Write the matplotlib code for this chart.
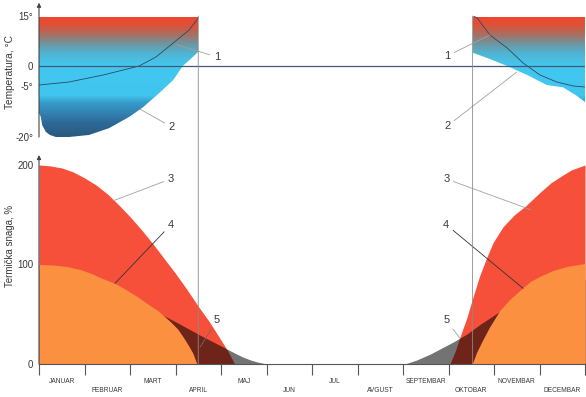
import numpy as np
import matplotlib
matplotlib.use("Agg")
import matplotlib.pyplot as plt
from matplotlib.colors import LinearSegmentedColormap, Normalize
from matplotlib.patches import ConnectionPatch

plt.rcParams['font.family'] = ['Liberation Sans', 'DejaVu Sans']

# ---- data ----
months = ["JANUAR", "FEBRUAR", "MART", "APRIL", "MAJ", "JUN",
          "JUL", "AVGUST", "SEPTEMBAR", "OKTOBAR", "NOVEMBAR", "DECEMBAR"]

season_end = 3.5     # vertical line, spring
season_start = 9.53  # vertical line, autumn

# temperature panel, left block (jan - apr): lower edge (2) and curve 1
t2_left_m = [0, 0.04, 0.07, 0.15, 0.24, 0.37, 0.66, 1.1, 1.54, 1.98, 2.29, 2.64, 2.95, 3.16, 3.38, 3.5]
t2_left_v = [-13.0, -14.1, -16.5, -18.5, -19.4, -20, -20, -19.4, -17.4, -14.1, -11.2, -7.1, -3.5, 0, 2.7, 4.3]
t1_left_m = [0, 0.66, 1.41, 1.85, 2.2, 2.57, 2.95, 3.3, 3.5]
t1_left_v = [-4.75, -4, -2.25, -1, 0, 2.7, 6.9, 10.8, 14.4]

# temperature panel, right block (oct - dec)
t2_right_m = [9.53, 9.91, 10.29, 10.73, 11.16, 11.52, 11.82, 12]
t2_right_v = [4.0, 2.1, 0, -2.25, -4.75, -5.4, -7.9, -9.7]
t1_right_m = [9.55, 9.63, 9.91, 10.29, 10.64, 11.01, 11.38, 11.74, 12]
t1_right_v = [15, 14.4, 9.3, 5.4, 0.9, -2.25, -4, -5, -5.3]

# the temperature axis of the original is not evenly spaced
temp_ticks = [-20, -5, 0, 15]
temp_tick_pos = [0, 51, 71, 121]

# thermal power panel
red_left_m = [0, 0.25, 0.5, 0.75, 1.0, 1.25, 1.5, 1.75, 2.0, 2.25, 2.5, 2.75,
              3.0, 3.25, 3.5, 3.75, 4.0, 4.15, 4.3]
red_left_v = [200, 199, 197, 193, 187, 180, 171, 160, 148, 135, 121, 106,
              91, 75, 58, 42, 24, 13, 0]
orange_left_m = [0, 0.3, 0.6, 0.9, 1.15, 1.34, 1.5, 1.67, 1.9, 2.15, 2.4, 2.6,
                 2.73, 2.9, 3.05, 3.17, 3.28, 3.38, 3.47]
orange_left_v = [100, 99.5, 98, 95, 91, 87, 84, 81, 75, 68, 60, 54,
                 49, 42, 35, 27, 19, 11, 0]
gray_left_m = [0, 1.0, 2.0, 2.73, 3.1, 3.54, 4.09, 4.3, 4.48, 4.65, 4.8, 5.0]
gray_left_v = [95, 82, 64, 49, 40, 29, 16, 11, 7, 4, 2, 0]

red_right_m = [9.03, 9.15, 9.25, 9.4, 9.53, 9.68, 9.84, 9.98, 10.2, 10.45, 10.7,
               11.0, 11.25, 11.45, 11.7, 12]
red_right_v = [0, 13, 27, 46, 66, 88, 107, 122, 138, 150, 159,
               172, 182, 188, 195, 200]
orange_right_m = [9.52, 9.62, 9.75, 9.9, 10.13, 10.35, 10.57, 10.8, 11.05, 11.3, 11.6, 12]
orange_right_v = [0, 12, 24, 37, 54, 65, 74, 83, 89, 94, 98, 101]
gray_right_m = [8.04, 8.3, 8.6, 8.85, 9.1, 9.4, 9.7, 10.0, 10.26, 11.0, 12]
gray_right_v = [0, 4, 10, 16, 22, 30, 40, 49, 57, 70, 85]

text_c = '#3a3a3a'
red = '#f7503a'
orange = '#fa9040'

fig = plt.figure(figsize=(5.86, 3.97), dpi=100)
ax_t = fig.add_axes([39/586, 1-137/397, 546/586, 121/397])
ax_b = fig.add_axes([39/586, 1-364/397, 546/586, 209/397])

# ---- temperature panel ----
def t_fwd(v):
    return np.interp(v, temp_ticks, temp_tick_pos)

def t_inv(p):
    return np.interp(p, temp_tick_pos, temp_ticks)

ax_t.set_yscale('function', functions=(t_fwd, t_inv))

grad_cmap = LinearSegmentedColormap.from_list("temp", [
    (0.0, '#2a5a80'), (4/35, '#2d6a98'), (10/35, '#389ccc'),
    (12/35, '#40c6ee'), (20/35, '#42c8f0'), (21.5/35, '#48c0e4'),
    (23.7/35, '#50b4d2'), (26.6/35, '#6e96a0'), (29.5/35, '#aa6e5f'),
    (32.4/35, '#e05037'), (1.0, '#f0462d')])
grad = np.linspace(-20, 15, 300).reshape(-1, 1)

for bm, bv in [(t2_left_m, t2_left_v), (t2_right_m, t2_right_v)]:
    poly = ax_t.fill_between(bm, bv, 15, facecolor='none', edgecolor='none')
    im = ax_t.imshow(grad, extent=[bm[0], bm[-1], -20, 15], origin='lower',
                     aspect='auto', cmap=grad_cmap, norm=Normalize(-20, 15))
    im.set_clip_path(poly.get_paths()[0], ax_t.transData)

ax_t.plot(t1_left_m, t1_left_v, color='#2a4a60', lw=0.6)
ax_t.plot(t1_right_m, t1_right_v, color='#2a4a60', lw=0.6)
ax_t.axhline(0, color='#4a5670', lw=0.9)

ax_t.set_xlim(0, 12)
ax_t.set_ylim(-20, 15)
for s in ax_t.spines.values():
    s.set_visible(False)
ax_t.set_xticks([])
ax_t.set_yticks([15, 0, -5, -20], ["15°", "0", "-5°", "-20°"])
ax_t.yaxis.set_minor_locator(plt.NullLocator())
ax_t.tick_params(axis='y', length=0, pad=4, labelsize=7, labelcolor=text_c)
ax_t.annotate('', xy=(0, 1.11), xytext=(0, 0), xycoords='axes fraction',
              arrowprops=dict(arrowstyle='-|>', color='#444', lw=0.8,
                              mutation_scale=6, shrinkA=0, shrinkB=0))
fig.text(10/586, 1-72/397, "Temperatura, °C", rotation=90, ha='center',
         va='center', fontsize=7.3, color=text_c)

light = dict(arrowstyle='-', color='#a0a0a0', lw=0.6, shrinkA=1, shrinkB=0)
dark = dict(arrowstyle='-', color='#333333', lw=0.6, shrinkA=1, shrinkB=0)
mid = dict(arrowstyle='-', color='#6a6a6a', lw=0.6, shrinkA=1, shrinkB=0)

ax_t.annotate('1', xy=(3.0, 6.5), xytext=(3.91, 2.7), fontsize=8, color=text_c,
              ha='center', va='center', arrowprops=light)
ax_t.annotate('2', xy=(2.22, -11.8), xytext=(2.92, -17.1), fontsize=8, color=text_c,
              ha='center', va='center', arrowprops=light)
ax_t.annotate('1', xy=(9.91, 9.3), xytext=(8.97, 3.0), fontsize=8, color=text_c,
              ha='center', va='center', arrowprops=light)
ax_t.annotate('2', xy=(10.5, -1.5), xytext=(8.97, -16.8), fontsize=8, color=text_c,
              ha='center', va='center', arrowprops=light)

# ---- thermal power panel ----
ax_b.fill_between(red_left_m, 0, red_left_v, color=red, lw=0)
ax_b.fill_between(red_right_m, 0, red_right_v, color=red, lw=0)
ax_b.fill_between(gray_left_m, 0, gray_left_v, color='black', alpha=0.55, lw=0)
ax_b.fill_between(gray_right_m, 0, gray_right_v, color='black', alpha=0.55, lw=0)
ax_b.fill_between(orange_left_m, 0, orange_left_v, color=orange, lw=0)
ax_b.fill_between(orange_right_m, 0, orange_right_v, color=orange, lw=0)

ax_b.set_xlim(0, 12)
ax_b.set_ylim(0, 210)
for s in ['top', 'right', 'left']:
    ax_b.spines[s].set_visible(False)
ax_b.spines['bottom'].set_color('#555')
ax_b.spines['bottom'].set_linewidth(0.8)
ax_b.set_yticks([0, 100, 200])
ax_b.tick_params(axis='y', length=0, pad=4, labelsize=7, labelcolor=text_c)
ax_b.set_xticks(np.arange(13))
ax_b.tick_params(axis='x', which='major', length=8, width=0.8, color='#555',
                 labelbottom=False)
ax_b.set_xticks(np.arange(12) + 0.5,
                [m if i % 2 == 0 else "\n" + m for i, m in enumerate(months)],
                minor=True)
ax_b.tick_params(axis='x', which='minor', length=0, pad=10, labelsize=4.8,
                 labelcolor=text_c)
for lbl in ax_b.get_xticklabels(minor=True):
    lbl.set_linespacing(1.5)
ax_b.annotate('', xy=(0, 1.0), xytext=(0, 0), xycoords='axes fraction',
              arrowprops=dict(arrowstyle='-|>', color='#444', lw=0.8,
                              mutation_scale=6, shrinkA=0, shrinkB=0))
fig.text(10/586, 1-246/397, "Termička snaga, %", rotation=90, ha='center',
         va='center', fontsize=7.0, color=text_c)

ax_b.annotate('3', xy=(1.63, 164), xytext=(2.9, 186), fontsize=8, color=text_c,
              ha='center', va='center', arrowprops=light)
ax_b.annotate('4', xy=(1.67, 81), xytext=(2.9, 140), fontsize=8, color=text_c,
              ha='center', va='center', arrowprops=dark)
ax_b.annotate('5', xy=(3.54, 17), xytext=(3.91, 44), fontsize=8, color=text_c,
              ha='center', va='center', arrowprops=mid)
ax_b.annotate('3', xy=(10.81, 155), xytext=(8.95, 186), fontsize=8, color=text_c,
              ha='center', va='center', arrowprops=light)
ax_b.annotate('4', xy=(10.64, 76), xytext=(8.95, 140), fontsize=8, color=text_c,
              ha='center', va='center', arrowprops=dark)
ax_b.annotate('5', xy=(9.25, 26), xytext=(8.95, 44), fontsize=8, color=text_c,
              ha='center', va='center', arrowprops=light)

# long vertical season lines across both panels
for xm in [season_end, season_start]:
    con = ConnectionPatch(xyA=(xm, 15), coordsA=ax_t.transData,
                          xyB=(xm, 0), coordsB=ax_b.transData,
                          color='#8a8a8a', lw=0.6)
    fig.add_artist(con)

fig.savefig("out.png", dpi=100)
